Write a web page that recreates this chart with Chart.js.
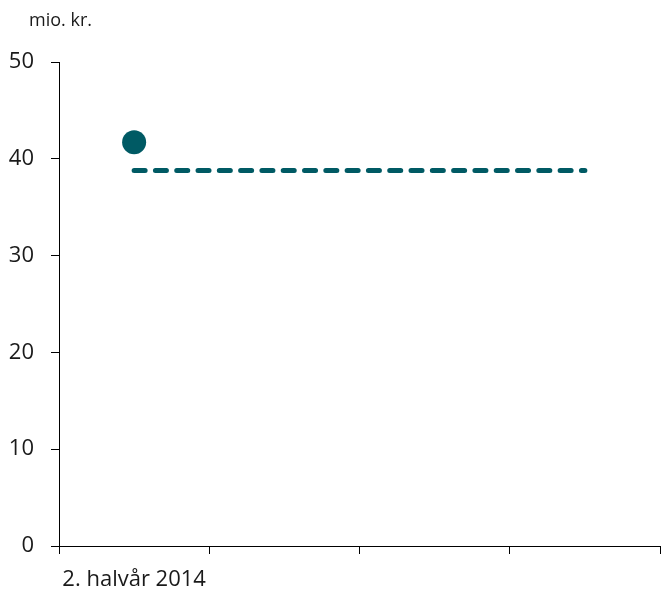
<!DOCTYPE html>
<html>
<head>
<meta charset="utf-8">
<script src="https://cdn.jsdelivr.net/npm/chart.js@4"></script>
<style>
  html, body { margin: 0; padding: 0; background: #fff; overflow: hidden; }
  #wrap { width: 661px; height: 593px; }
  #chart { display: block; }
</style>
</head>
<body>
<div id="wrap"><canvas id="chart" width="661" height="593"></canvas></div>
<script>
const categories = ["2. halvår 2014", "", "", ""];
const actualValues = [41.7, null, null, null];
const levelValues = [38.8, 38.8, 38.8, 38.8];
const yTicks = [0, 10, 20, 30, 40, 50];
const unitLabel = "mio. kr.";

const teal = "#005a64";
const font = "'Open Sans', 'Noto Sans', sans-serif";

// unit text above the y axis
const unitPlugin = {
  id: "unitLabel",
  afterDraw(chart) {
    const ctx = chart.ctx;
    ctx.save();
    ctx.font = "18px " + font;
    ctx.fillStyle = "#1a1a1a";
    ctx.textBaseline = "middle";
    ctx.textAlign = "left";
    ctx.fillText(unitLabel, 29, 21);
    ctx.restore();
  }
};

new Chart(document.getElementById("chart").getContext("2d"), {
  type: "line",
  data: {
    labels: categories,
    datasets: [
      {
        label: "Niveau",
        data: levelValues,
        borderColor: teal,
        borderWidth: 5,
        borderDash: [11, 10.3],
        borderCapStyle: "round",
        pointRadius: 0,
        fill: false,
        tension: 0,
      },
      {
        label: "Faktisk",
        data: actualValues,
        showLine: false,
        pointRadius: 12,
        pointBackgroundColor: teal,
        pointBorderWidth: 0,
        borderColor: teal,
      },
    ],
  },
  options: {
    responsive: false,
    animation: false,
    // autoPadding off, otherwise the big dot reserves room on the right
    layout: { autoPadding: false, padding: { top: 62, right: 1, bottom: 0, left: 0 } },
    plugins: {
      legend: { display: false },
      tooltip: { enabled: false },
    },
    scales: {
      x: {
        offset: true,
        grid: { drawOnChartArea: false, drawTicks: true, tickLength: 8, color: "#000", offset: true },
        border: { color: "#000", width: 1 },
        ticks: {
          color: "#1a1a1a",
          font: { family: font, size: 22 },
          padding: 13,
          maxRotation: 0,
          autoSkip: false,
        },
        afterFit: (s) => {
          s.height = 47;
          s.paddingLeft = 0;
          s.paddingRight = 0;
        },
      },
      y: {
        min: 0,
        max: 50,
        afterBuildTicks: (s) => { s.ticks = yTicks.map((v) => ({ value: v })); },
        grid: { drawOnChartArea: false, drawTicks: true, tickLength: 8, color: "#000" },
        border: { color: "#000", width: 1 },
        ticks: {
          color: "#1a1a1a",
          font: { family: font, size: 22 },
          padding: 17,
        },
        afterFit: (s) => { s.width = 59; },
      },
    },
  },
  plugins: [unitPlugin],
});
</script>
</body>
</html>
